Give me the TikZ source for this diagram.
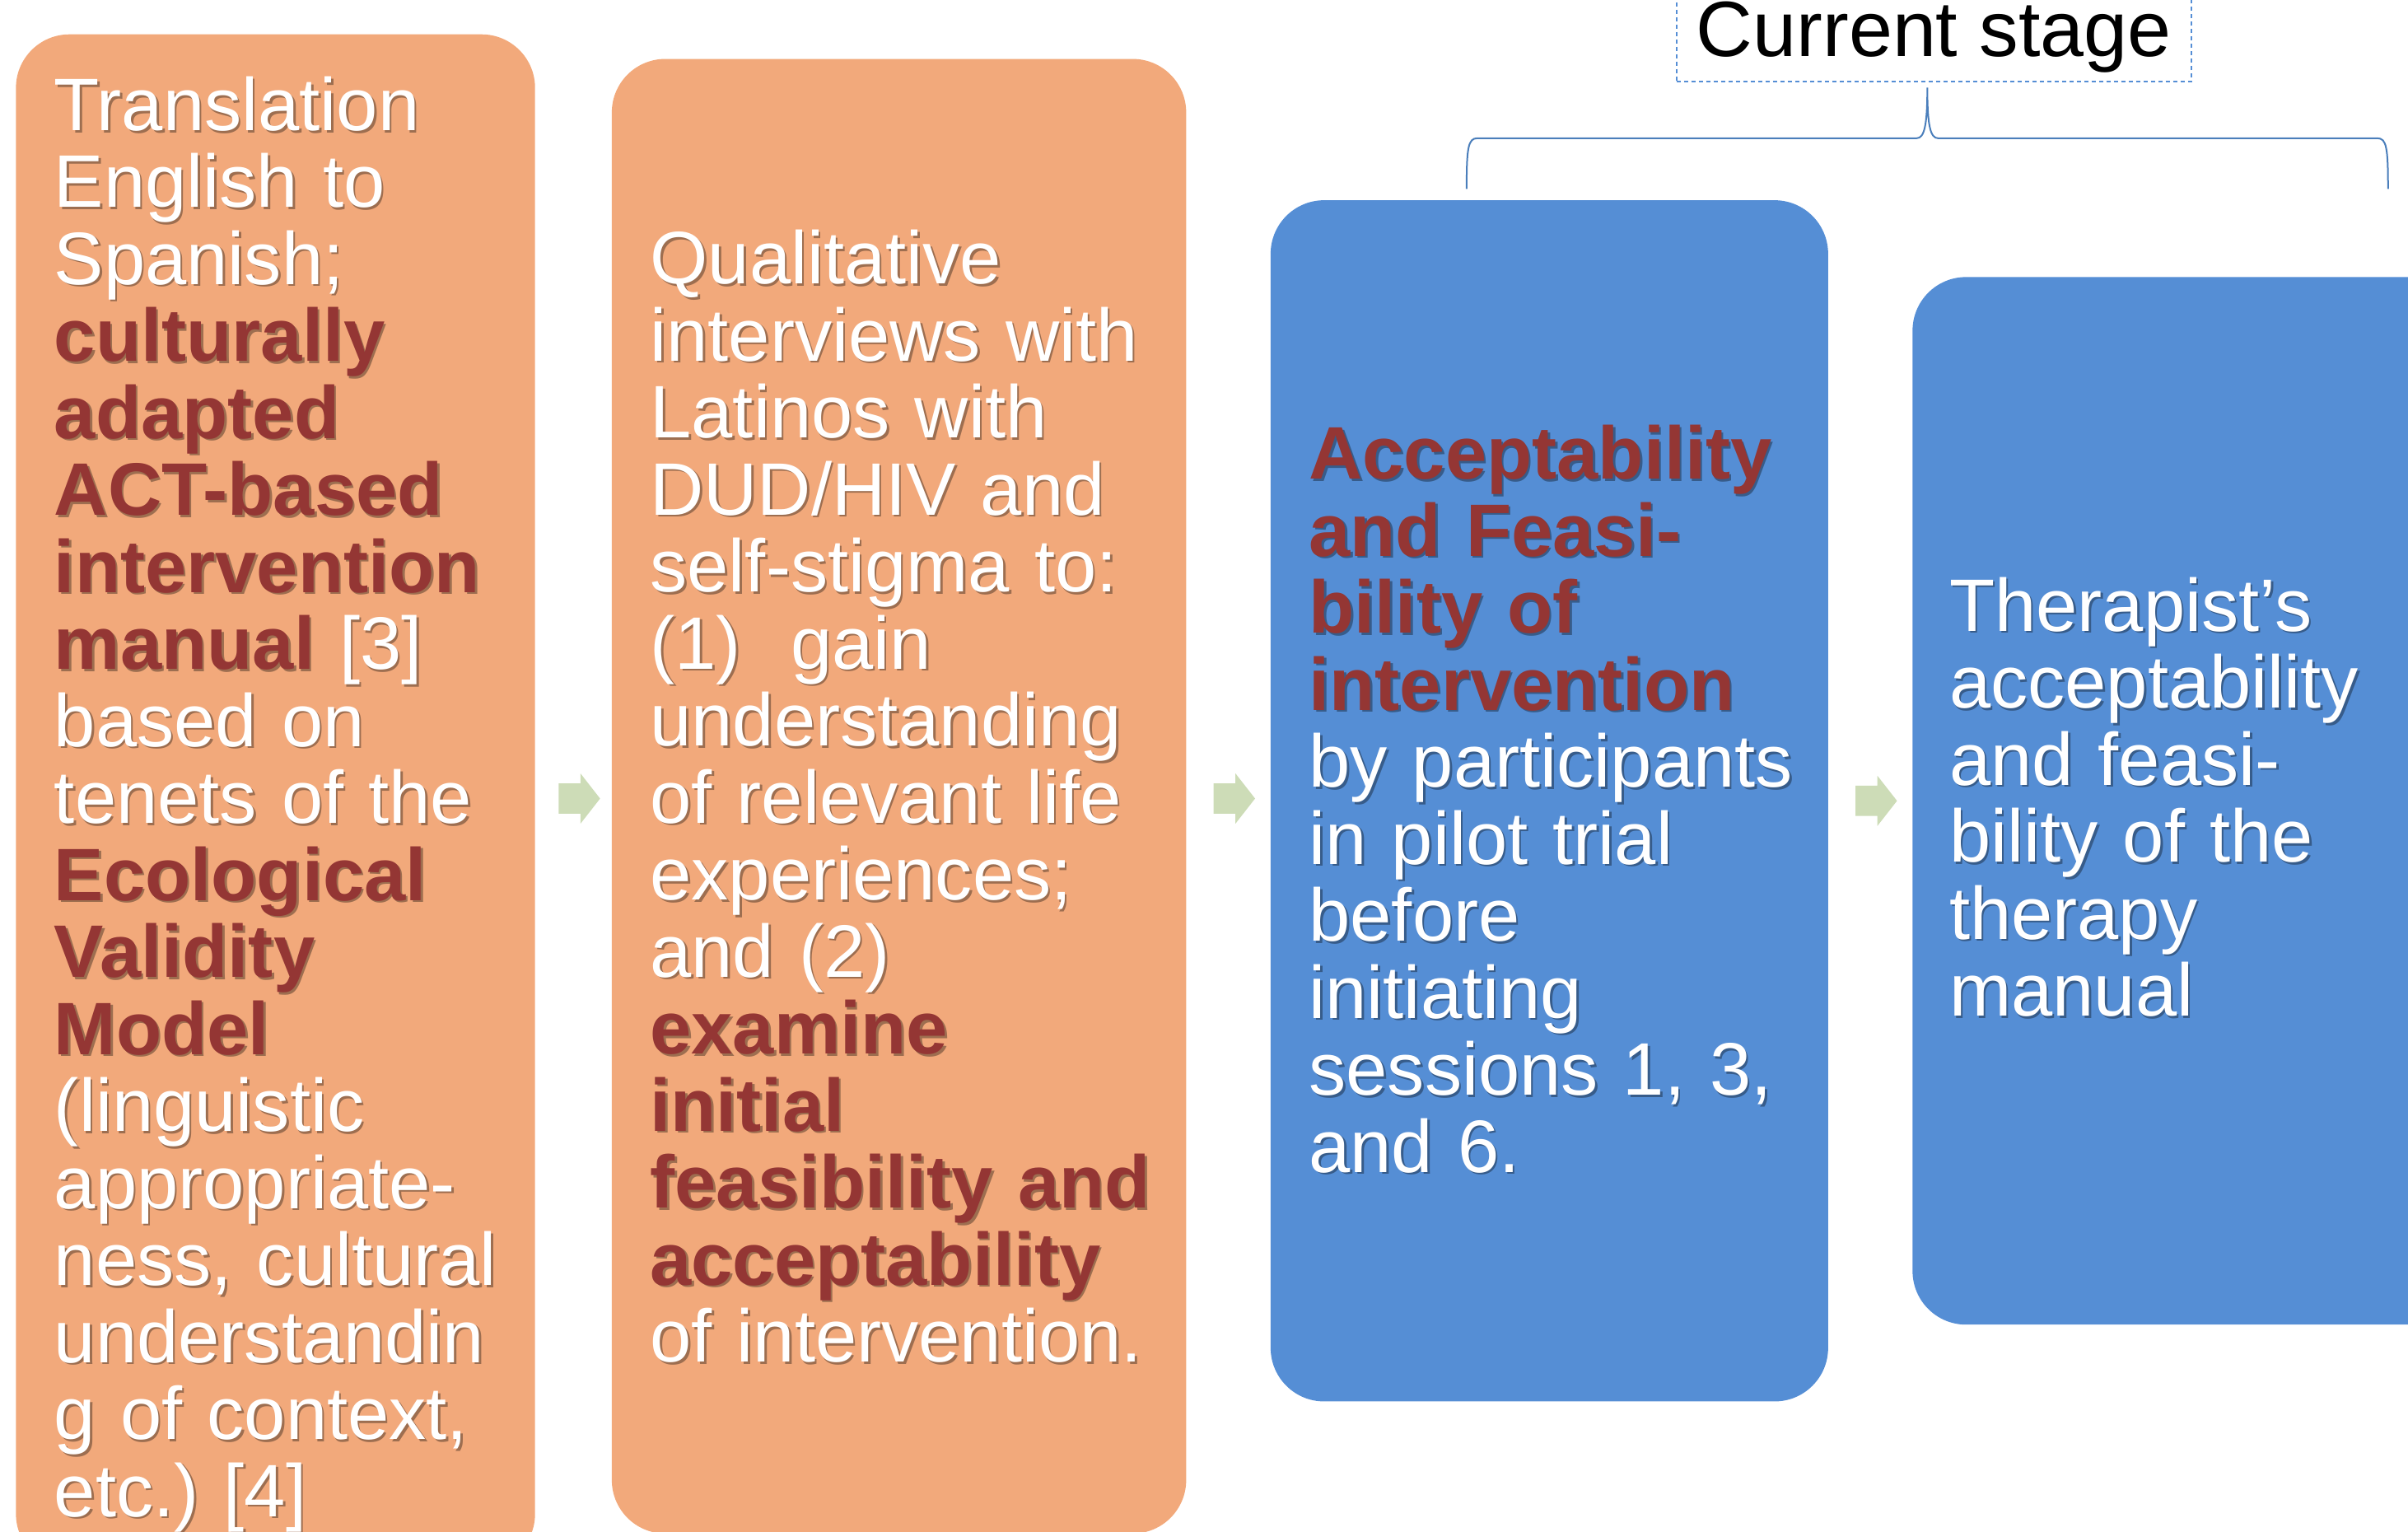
\documentclass[tikz,border=0pt]{standalone}
\usepackage{fontspec}
\setmainfont{Liberation Sans}
\usepackage{tikz}
\usetikzlibrary{
  calc,
  shapes.arrows
}
\usepackage{xcolor}

\definecolor{stageorange}{HTML}{F2A97B}
\definecolor{stageblue}{HTML}{558ED5}
\definecolor{arrowgreen}{HTML}{CDDCB7}
\definecolor{hilite}{HTML}{943634}
\definecolor{bracecol}{HTML}{4A7EBB}

\newcommand{\boxfont}{\fontsize{25.7pt}{26.6pt}\selectfont\frenchspacing}
\newcommand{\hl}[1]{{\bfseries\color{hilite}#1}}

% box texts
\newcommand{\boxtxtone}{Translation\\ English to\\ Spanish;\\ \hl{culturally}\\ \hl{adapted}\\
  \hl{ACT-based}\\ \hl{intervention}\\ \hl{manual} [3]\\ based on\\ tenets of the\\
  \hl{Ecological}\\ \hl{Validity}\\ \hl{Model}\\ (linguistic\\ appropriate-\\
  ness, cultural\\ understandin\\ g of context,\\ etc.) [4]}
\newcommand{\boxtxttwo}{Qualitative\\ interviews with\\ Latinos with\\ DUD/HIV and\\
  self-stigma to:\\ (1)~~gain\\ understanding\\ of relevant life\\ experiences;\\
  and (2)\\ \hl{examine}\\ \hl{initial}\\ \hl{feasibility and}\\ \hl{acceptability}\\
  of intervention.}
\newcommand{\boxtxtthree}{\hl{Acceptability}\\ \hl{and Feasi-}\\ \hl{bility of}\\
  \hl{intervention}\\ by participants\\ in pilot trial\\ before\\ initiating\\
  sessions 1, 3,\\ and 6.}
\newcommand{\boxtxtfour}{Therapist’s\\ acceptability\\ and feasi-\\ bility of the\\
  therapy\\ manual}

\begin{document}
\begin{tikzpicture}[
  x=0.1865mm, y=-0.1865mm,
  box/.style={rectangle, rounded corners=6.5mm, anchor=north west, inner sep=0pt},
  orangebox/.style={box, fill=stageorange},
  bluebox/.style={box, fill=stageblue},
  txt/.style={anchor=base west, inner sep=0pt, text width=9cm, align=left, text=white, font=\boxfont},
  txtshadow/.style={txt, xshift=0.25mm, yshift=-0.25mm, text=black, text opacity=0.35,
    font=\boxfont\colorlet{hilite}{black}},
  flowarrow/.style={single arrow, fill=arrowgreen, minimum height=5.04mm, minimum width=5.97mm,
    inner xsep=0pt, inner ysep=1.77mm, single arrow head extend=1.21mm, single arrow tip angle=104},
  stagelabel/.style={anchor=base west, draw=stageblue, line width=0.24mm, dash pattern=on 0.55mm off 0.35mm,
    inner xsep=2.42mm, inner ysep=0pt, text height=11.2mm, text depth=3.06mm,
    font=\fontsize{27.1pt}{30pt}\selectfont},
  bracket/.style={draw=bracecol, line width=0.2mm},
]
\useasboundingbox (0,0) rectangle (1568,997.4);

% Boxes
\node[orangebox, minimum width=63.04mm, minimum height=186.13mm] (b1) at (10,22) {};
\node[orangebox, minimum width=69.75mm, minimum height=179.04mm] (b2) at (398,38) {};
\node[bluebox, minimum width=67.70mm, minimum height=145.84mm] (b3) at (827,130) {};
\node[bluebox, minimum width=67.70mm, minimum height=127.19mm] (b4) at (1245,180) {};

% Texts (with a soft drop shadow)
\node[txtshadow] (t1s) at (35,85) {\boxtxtone};
\node[txt] (t1) at (35,85) {\boxtxtone};
\node[txtshadow] (t2s) at (423,185) {\boxtxttwo};
\node[txt] (t2) at (423,185) {\boxtxttwo};
\node[txtshadow] (t3s) at (852,312) {\boxtxtthree};
\node[txt] (t3) at (852,312) {\boxtxtthree};
\node[txtshadow] (t4s) at (1269,411) {\boxtxtfour};
\node[txt] (t4) at (1269,411) {\boxtxtfour};

% Arrows between boxes
\node[flowarrow] (a1) at ($(b1.east)!0.5!(b2.west)$) {};
\node[flowarrow] (a2) at ($(b2.east)!0.5!(b3.west)$) {};
\node[flowarrow] (a3) at ($(b3.east)!0.5!(b4.west)$) {};

% Current stage brace
\node[stagelabel] (stage) at (1091,36.6) {Current stage};
\coordinate (brL) at (955,123);
\coordinate (brR) at (1555,123);
\coordinate (brTip) at (1255,57);
\draw[bracket] (brL) .. controls (955,96) and (956,90) .. (962,90) -- (1248,90)
  .. controls (1253,90) and (1255,82) .. (brTip)
  .. controls (1255,82) and (1257,90) .. (1262,90) -- (1548,90)
  .. controls (1554,90) and (1555,96) .. (brR);
\end{tikzpicture}
\end{document}
